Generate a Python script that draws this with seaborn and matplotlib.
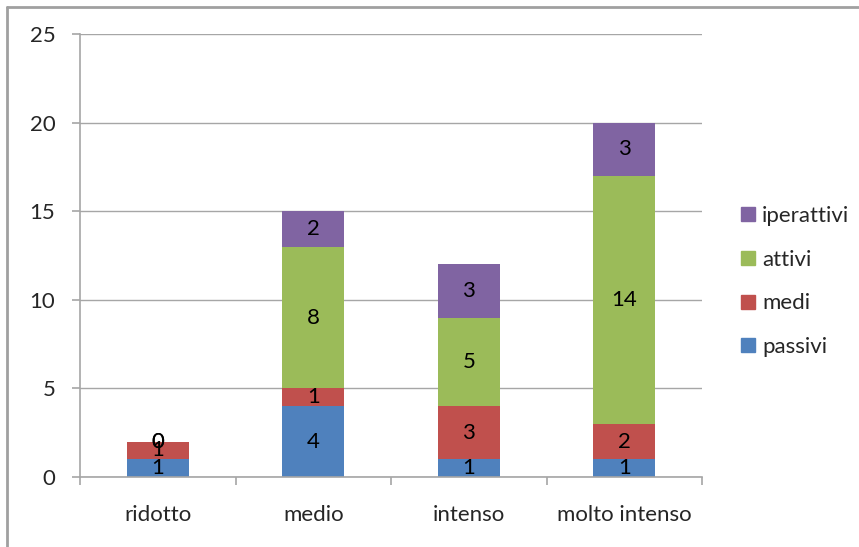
import numpy as np
import pandas as pd
import matplotlib
matplotlib.use("Agg")
import matplotlib.pyplot as plt
from matplotlib.lines import Line2D
import seaborn as sns

categorie = ['ridotto', 'medio', 'intenso', 'molto intenso']
passivi = [1, 4, 1, 1]
medi = [1, 1, 3, 2]
attivi = [0, 8, 5, 14]
iperattivi = [0, 2, 3, 3]

serie = ['passivi', 'medi', 'attivi', 'iperattivi']
colori = {'passivi': '#4F81BD', 'medi': '#C0504D', 'attivi': '#9BBB59', 'iperattivi': '#8064A2'}

df = pd.DataFrame({
    'categoria': categorie * 4,
    'serie': sum([[s] * 4 for s in serie], []),
    'valore': passivi + medi + attivi + iperattivi,
})
df['categoria'] = pd.Categorical(df['categoria'], categories=categorie, ordered=True)

sns.set_style('white')
plt.rcParams['font.family'] = ['Lato', 'DejaVu Sans']
fs = 16

fig = plt.figure(figsize=(8.59, 5.47), dpi=100)
ax = fig.add_axes([80 / 859, 1 - 477 / 547, 622 / 859, 443 / 547])

# stack: first hue level drawn on top, so reverse order
ordine = serie[::-1]
sns.histplot(data=df, x='categoria', weights='valore', hue='serie', hue_order=ordine,
             multiple='stack', discrete=True, shrink=0.4, palette=colori,
             alpha=1, edgecolor='none', linewidth=0, legend=False, ax=ax)

for c in ax.containers:
    ax.bar_label(c, fmt='%d', label_type='center', fontsize=fs, color='black')

ax.set_xlim(-0.5, 3.5)
ax.set_ylim(0, 25)
ax.set_yticks(range(0, 26, 5))
ax.set_xticks(range(4))
ax.set_xticklabels(categorie)
ax.set_xticks(np.arange(-0.5, 4, 1), minor=True)
ax.set_xlabel('')
ax.set_ylabel('')

grigio = '#a6a6a6'
ax.yaxis.grid(True, color=grigio, linewidth=1)
ax.set_axisbelow(True)
for s in ['top', 'right']:
    ax.spines[s].set_visible(False)
for s in ['left', 'bottom']:
    ax.spines[s].set_color(grigio)
    ax.spines[s].set_linewidth(1.2)
ax.tick_params(axis='y', which='major', length=5.8, color=grigio, width=1.2,
               labelsize=fs, pad=12, left=True)
ax.tick_params(axis='x', which='major', length=0, labelsize=fs, pad=20)
ax.tick_params(axis='x', which='minor', length=5.8, color=grigio, width=1.2, bottom=True)

maniglie = [Line2D([0], [0], marker='s', linestyle='none', markersize=9.5,
                   markerfacecolor=colori[s], markeredgecolor=colori[s], label=s)
            for s in ordine]
fig.legend(handles=maniglie, loc='center left', bbox_to_anchor=(741 / 859, 1 - 281.5 / 547),
           frameon=False, fontsize=fs, labelspacing=1.07, handletextpad=0.35,
           handlelength=0.6, borderpad=0, borderaxespad=0)

# cornice esterna
fig.add_artist(Line2D([7 / 859, 7 / 859], [0, 1 - 7 / 547], color='#a0a0a0', linewidth=2,
                      transform=fig.transFigure))
fig.add_artist(Line2D([7 / 859, 1], [1 - 7 / 547, 1 - 7 / 547], color='#a0a0a0', linewidth=2,
                      transform=fig.transFigure))

fig.savefig('out.png', dpi=100)
